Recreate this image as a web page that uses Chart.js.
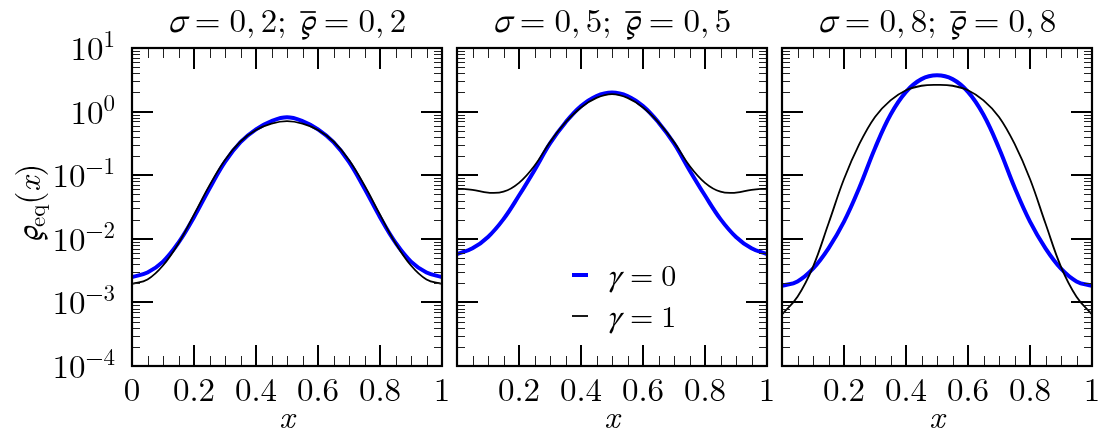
<!DOCTYPE html>
<html><head><meta charset="utf-8">
<script src="https://cdn.jsdelivr.net/npm/chart.js@4/dist/chart.umd.min.js"></script>
<style>
html,body{margin:0;padding:0;background:#fff;}
#wrap{position:relative;width:1100px;height:438px;overflow:hidden;background:#fff;}
canvas{position:absolute;left:0;top:0;}
</style></head><body>
<div id="wrap">
<canvas id="c1" width="1100" height="438"></canvas>
<canvas id="c2" width="1100" height="438"></canvas>
<canvas id="c3" width="1100" height="438"></canvas>
</div>
<script>
// ---- data ----
const xValues = [0,0.05,0.1,0.15,0.2,0.25,0.3,0.35,0.4,0.45,0.5,0.55,0.6,0.65,0.7,0.75,0.8,0.85,0.9,0.95,1];
const rhoG0S02 = [0.00251,0.00295,0.00437,0.00871,0.0219,0.0617,0.162,0.331,0.525,0.708,0.813,0.708,0.525,0.331,0.162,0.0617,0.0219,0.00871,0.00437,0.00295,0.00251];
const rhoG1S02 = [0.00195,0.00229,0.0038,0.00851,0.024,0.0692,0.174,0.339,0.513,0.646,0.708,0.646,0.513,0.339,0.174,0.0692,0.024,0.00851,0.0038,0.00229,0.00195];
const rhoG0S05 = [0.00575,0.00708,0.0107,0.0204,0.0479,0.120,0.316,0.676,1.22,1.76,2.0,1.76,1.22,0.676,0.316,0.120,0.0479,0.0204,0.0107,0.00708,0.00575];
const rhoG1S05 = [0.0617,0.0589,0.0531,0.055,0.0759,0.141,0.331,0.676,1.16,1.64,1.88,1.64,1.16,0.676,0.331,0.141,0.0759,0.055,0.0531,0.0589,0.0617];
const rhoG0S08 = [0.00182,0.00214,0.00339,0.00708,0.0186,0.0646,0.266,0.891,2.04,3.24,3.72,3.24,2.04,0.891,0.266,0.0646,0.0186,0.00708,0.00339,0.00214,0.00182];
const rhoG1S08 = [0.000646,0.00123,0.00363,0.0174,0.0871,0.313,0.824,1.5,2.17,2.55,2.63,2.55,2.17,1.5,0.824,0.313,0.0871,0.0174,0.00363,0.00123,0.000646];
const panelParams = ['0, 2','0, 5','0, 8'];
const gammaValues = ['0','1'];
const xTickValues = [0,0.2,0.4,0.6,0.8,1];
const xTickLabels = ['0','0.2','0.4','0.6','0.8','1'];
const yTickExponents = [1,0,-1,-2,-3,-4];

const SERIF = '"Latin Modern Roman","Liberation Serif",serif';
const GREEK = '"STIX Two Math",serif';

function drawRuns(ctx, runs, x, y, align) {
  let w = 0;
  runs.forEach(r => { if (!r.gap) { ctx.font = r.font; } r.w = r.gap ? r.gap : ctx.measureText(r.t).width; w += r.w; });
  let cx = align === 'center' ? x - w / 2 : (align === 'right' ? x - w : x);
  ctx.textAlign = 'left';
  ctx.textBaseline = 'alphabetic';
  runs.forEach(r => {
    if (!r.gap) {
      ctx.font = r.font;
      ctx.fillText(r.t, cx, y + (r.dy || 0));
      if (r.over) {
        ctx.save(); ctx.lineWidth = 1.7; ctx.beginPath();
        ctx.moveTo(cx + 1, y - r.over); ctx.lineTo(cx + r.w + 1, y - r.over); ctx.stroke(); ctx.restore();
      }
    }
    cx += r.w;
  });
  return w;
}

const framePlugin = {
  id: 'frame',
  afterDraw(chart) {
    const o = chart.options.plugins.frame;
    const {ctx, chartArea: a, scales: {x, y}} = chart;
    ctx.save();
    ctx.fillStyle = '#000';
    // minor x ticks
    ctx.lineWidth = 1;
    ctx.strokeStyle = '#222';
    for (let k = 1; k < 20; k++) {
      if (k % 4 === 0) continue;
      const px = Math.round(x.getPixelForValue(k / 20)) + 0.5;
      ctx.beginPath();
      ctx.moveTo(px, a.top); ctx.lineTo(px, a.top + 10);
      ctx.moveTo(px, a.bottom); ctx.lineTo(px, a.bottom - 10);
      ctx.stroke();
    }
    // minor y ticks
    for (let e = -4; e < 1; e++) {
      for (let m = 2; m <= 9; m++) {
        const py = Math.round(y.getPixelForValue(m * Math.pow(10, e))) + 0.5;
        ctx.beginPath();
        ctx.moveTo(a.left, py); ctx.lineTo(a.left + 8, py);
        ctx.moveTo(a.right, py); ctx.lineTo(a.right - 8, py);
        ctx.stroke();
      }
    }
    // major ticks
    ctx.strokeStyle = '#000';
    ctx.lineWidth = 2;
    xTickValues.forEach(v => {
      const px = Math.round(x.getPixelForValue(v));
      ctx.beginPath();
      ctx.moveTo(px, a.top); ctx.lineTo(px, a.top + 21);
      ctx.moveTo(px, a.bottom); ctx.lineTo(px, a.bottom - 21);
      ctx.stroke();
    });
    yTickExponents.forEach(e => {
      const py = Math.round(y.getPixelForValue(Math.pow(10, e)));
      ctx.beginPath();
      ctx.moveTo(a.left, py); ctx.lineTo(a.left + 21, py);
      ctx.moveTo(a.right, py); ctx.lineTo(a.right - 21, py);
      ctx.stroke();
    });
    // frame
    ctx.lineWidth = 2.2;
    ctx.strokeRect(a.left, a.top, a.right - a.left, a.bottom - a.top);

    // y tick labels
    if (o.showY) {
      yTickExponents.forEach(e => {
        const py = y.getPixelForValue(Math.pow(10, e));
        const ex = e < 0 ? '\u2212' + Math.abs(e) : String(e);
        drawRuns(ctx, [
          {t: '10', font: `33px ${SERIF}`},
          {t: ex, font: `23px ${SERIF}`, dy: -13}
        ], 115, py + 12, 'right');
      });
      // y axis title
      ctx.save();
      ctx.translate(40, 203);
      ctx.rotate(-Math.PI / 2);
      drawRuns(ctx, [
        {t: '\u03F1', font: `italic 33px ${GREEK}`},
        {t: 'eq', font: `23px ${SERIF}`, dy: 5},
        {t: '(', font: `33px ${SERIF}`},
        {t: 'x', font: `italic 33px ${SERIF}`},
        {t: ')', font: `33px ${SERIF}`}
      ], 0, 0, 'center');
      ctx.restore();
    }
    // title
    const tf = `33px ${SERIF}`, tfi = `italic 33px ${GREEK}`;
    const parts = o.param.split(', ');
    drawRuns(ctx, [
      {t: '\u03C3', font: tfi}, {gap: 9}, {t: '=', font: tf}, {gap: 9},
      {t: parts[0] + ',', font: tf}, {gap: 5.5}, {t: parts[1] + ';', font: tf}, {gap: 13},
      {t: '\u03F1', font: tfi, over: 20}, {gap: 9}, {t: '=', font: tf}, {gap: 9},
      {t: parts[0] + ',', font: tf}, {gap: 5.5}, {t: parts[1], font: tf}
    ], (a.left + a.right) / 2, 32, 'center');

    // legend
    if (o.legend) {
      const ds = chart.data.datasets;
      const rows = [{ds: ds[0], y: 275}, {ds: ds[1], y: 316}];
      rows.forEach((r, i) => {
        ctx.save();
        ctx.strokeStyle = r.ds.borderColor;
        ctx.lineWidth = r.ds.borderWidth;
        ctx.beginPath(); ctx.moveTo(572, r.y); ctx.lineTo(588, r.y); ctx.stroke();
        ctx.restore();
        drawRuns(ctx, [
          {t: '\u03B3', font: `italic 30px ${GREEK}`}, {gap: 9},
          {t: '=', font: `30px ${SERIF}`}, {gap: 8},
          {t: gammaValues[i], font: `30px ${SERIF}`}
        ], 607, r.y + 11, 'left');
      });
    }
    ctx.restore();
  }
};

const panels = [
  {id: 'c1', left: 132, right: 442, param: panelParams[0], g0: rhoG0S02, g1: rhoG1S02, showZero: true, showY: true, legend: false},
  {id: 'c2', left: 457, right: 767, param: panelParams[1], g0: rhoG0S05, g1: rhoG1S05, showZero: false, showY: false, legend: true},
  {id: 'c3', left: 782, right: 1092, param: panelParams[2], g0: rhoG0S08, g1: rhoG1S08, showZero: false, showY: false, legend: false}
];

panels.forEach(p => {
  new Chart(document.getElementById(p.id), {
    type: 'line',
    data: {datasets: [
      {label: '\u03B3 = ' + gammaValues[0], data: xValues.map((v, i) => ({x: v, y: p.g0[i]})),
       borderColor: '#0000ff', borderWidth: 4, pointRadius: 0, tension: 0.4, fill: false, order: 1},
      {label: '\u03B3 = ' + gammaValues[1], data: xValues.map((v, i) => ({x: v, y: p.g1[i]})),
       borderColor: '#000000', borderWidth: 1.8, pointRadius: 0, tension: 0.4, fill: false, order: 0}
    ]},
    options: {
      responsive: false, animation: false, devicePixelRatio: 1,
      layout: {padding: {left: p.left, right: 1100 - p.right, top: 48, bottom: 0}},
      plugins: {legend: {display: false}, tooltip: {enabled: false}, title: {display: false},
        frame: {param: p.param, showY: p.showY, legend: p.legend}},
      scales: {
        x: {type: 'linear', min: 0, max: 1, position: 'bottom',
          grid: {display: false, drawTicks: false}, border: {display: false},
          afterBuildTicks: s => { s.ticks = xTickValues.map(v => ({value: v})); },
          ticks: {font: {family: SERIF, size: 33, lineHeight: 1.2}, color: '#000', padding: 5, maxRotation: 0, autoSkip: false,
            callback: (v, i) => (i === 0 && !p.showZero) ? '' : xTickLabels[i]},
          title: {display: true, text: 'x', font: {family: SERIF, size: 33, style: 'italic', lineHeight: 1.2}, color: '#000', padding: 0},
          afterFit: s => { s.height = 72; s.paddingLeft = 0; s.paddingRight = 0; }
        },
        y: {type: 'logarithmic', min: 1e-4, max: 10, position: 'left',
          grid: {display: false, drawTicks: false}, border: {display: false}, ticks: {display: false},
          afterFit: s => { s.width = 0; }
        }
      }
    },
    plugins: [framePlugin]
  });
});
</script>
</body></html>
